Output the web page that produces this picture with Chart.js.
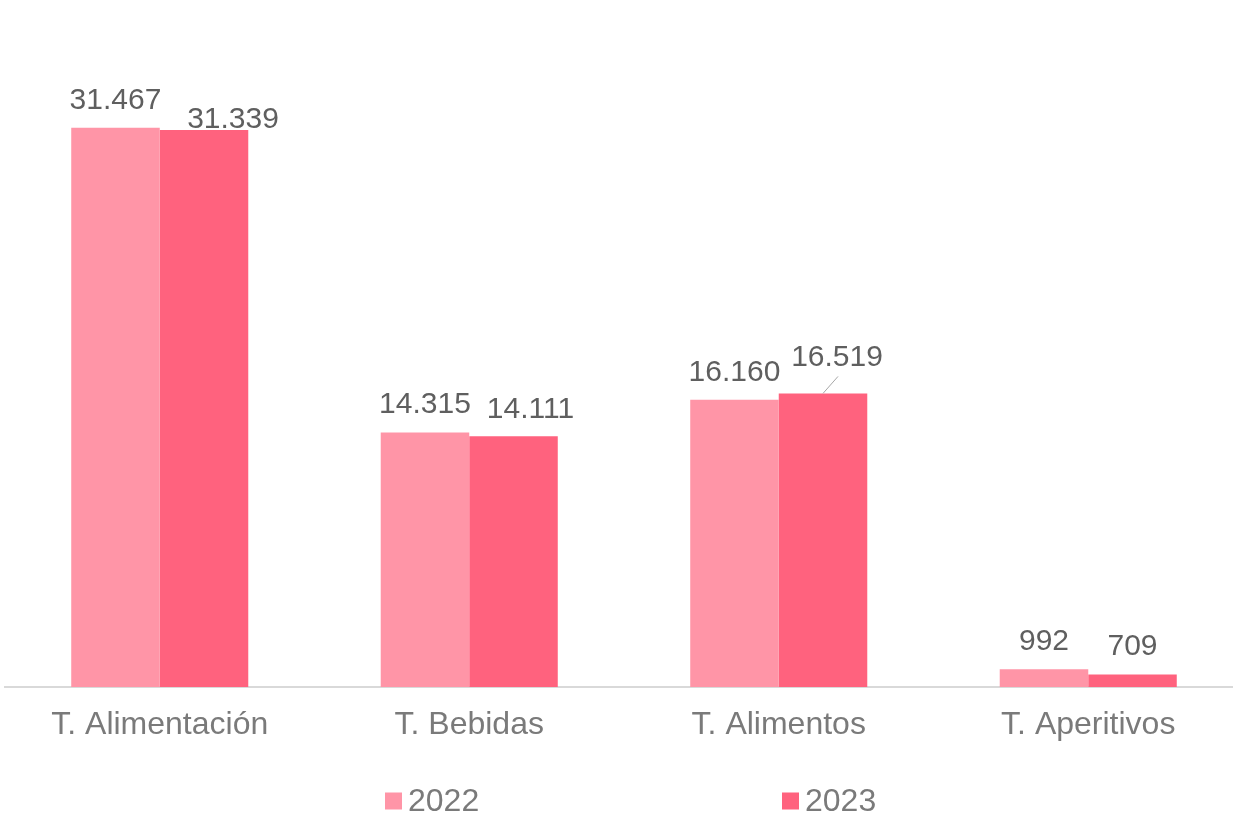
<!DOCTYPE html>
<html>
<head>
<meta charset="utf-8">
<script src="https://cdn.jsdelivr.net/npm/chart.js@4.4.1/dist/chart.umd.min.js"></script>
<style>
  html, body { margin: 0; padding: 0; background: #fff; overflow: hidden; }
  #wrap { width: 1233px; height: 813px; overflow: hidden; position: relative; }
  #chart { position: absolute; left: 0; top: 0; }
</style>
</head>
<body>
<div id="wrap">
  <canvas id="chart" width="1243" height="813"></canvas>
</div>
<script>
const categories = ['T. Alimentación', 'T. Bebidas', 'T. Alimentos', 'T. Aperitivos'];
const seriesNames = ['2022', '2023'];
const values2022 = [31467, 14315, 16160, 992];
const values2023 = [31339, 14111, 16519, 709];
const seriesColors = ['#FF95A7', '#FF627E'];

const FONT = "'Liberation Sans', Arial, sans-serif";

function formatThousands(v) {
  return String(v).replace(/\B(?=(\d{3})+(?!\d))/g, '.');
}

// value labels above bars (Excel-like placement, a few labels nudged)
const barLabels = {
  id: 'barLabels',
  afterDatasetsDraw(chart, args, opts) {
    const ctx = chart.ctx;
    ctx.save();
    ctx.font = opts.size + 'px ' + FONT;
    ctx.fillStyle = opts.color;
    ctx.textAlign = 'center';
    ctx.textBaseline = 'alphabetic';
    chart.data.datasets.forEach((ds, di) => {
      const meta = chart.getDatasetMeta(di);
      meta.data.forEach((bar, i) => {
        const nudge = opts.nudges[di + '-' + i] || [0, 0];
        const cx = bar.x + nudge[0];
        const cy = bar.y - opts.offset + nudge[1];
        if (opts.leaders[di + '-' + i]) {
          ctx.strokeStyle = '#A6A6A6';
          ctx.lineWidth = 1;
          ctx.beginPath();
          ctx.moveTo(cx + 1, cy + 21);
          ctx.lineTo(bar.x, bar.y);
          ctx.stroke();
        }
        ctx.fillText(formatThousands(ds.data[i]), cx, cy + opts.size * 0.36);
      });
    });
    ctx.restore();
  }
};

// legend spread out like the original
const wideLegend = {
  id: 'wideLegend',
  afterDraw(chart, args, opts) {
    const ctx = chart.ctx;
    ctx.save();
    ctx.font = opts.size + 'px ' + FONT;
    ctx.textBaseline = 'middle';
    ctx.textAlign = 'left';
    chart.data.datasets.forEach((ds, i) => {
      const x = opts.xs[i];
      ctx.fillStyle = ds.backgroundColor;
      ctx.fillRect(x, opts.y - 8.5, 17, 17);
      ctx.fillStyle = opts.color;
      ctx.fillText(ds.label, x + 23, opts.y + 1);
    });
    ctx.restore();
  }
};

new Chart(document.getElementById('chart'), {
  type: 'bar',
  data: {
    labels: categories,
    datasets: [
      { label: seriesNames[0], data: values2022, backgroundColor: seriesColors[0] },
      { label: seriesNames[1], data: values2023, backgroundColor: seriesColors[1] }
    ]
  },
  options: {
    responsive: false,
    animation: false,
    events: [],
    layout: { padding: { left: 5, right: 0, top: 65, bottom: 0 } },
    datasets: { bar: { categoryPercentage: 0.572, barPercentage: 1.0 } },
    scales: {
      x: {
        grid: { display: false, drawTicks: false },
        border: { display: true, color: '#D9D9D9', width: 2 },
        ticks: {
          color: '#7A7A7A',
          font: { family: FONT, size: 32 },
          padding: 19,
          maxRotation: 0
        },
        afterFit(scale) { scale.height = 126; }
      },
      y: {
        display: false,
        min: 0,
        max: 35000
      }
    },
    plugins: {
      legend: { display: false },
      tooltip: { enabled: false },
      barLabels: {
        size: 30,
        color: '#5F5F5F',
        offset: 30,
        nudges: { '1-0': [29, 17], '1-1': [17, 1], '1-2': [14, -8] },
        leaders: { '1-2': true }
      },
      wideLegend: { xs: [385, 782], y: 801, size: 32, color: '#7A7A7A' }
    }
  },
  plugins: [barLabels, wideLegend]
});
</script>
</body>
</html>
